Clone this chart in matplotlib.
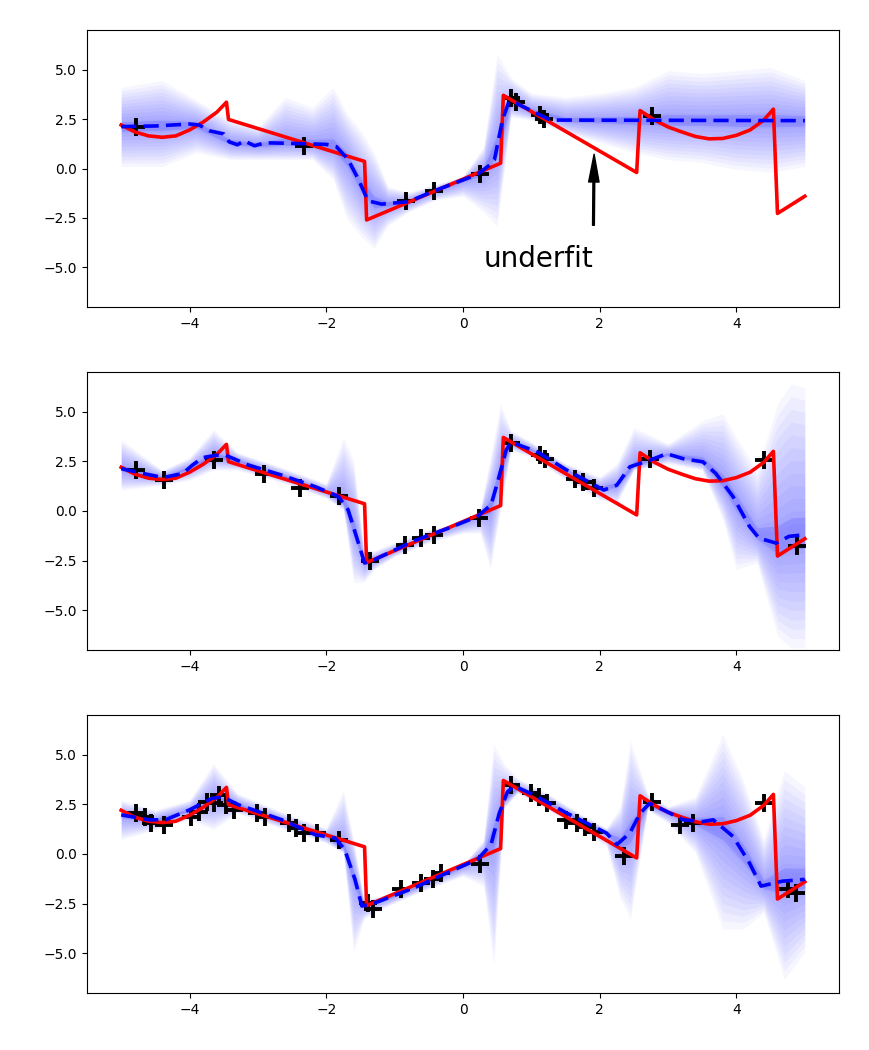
import matplotlib.pyplot as plt
import numpy as np

# true function (red)
true_x = [-5.0, -4.8, -4.6, -4.4, -4.2, -4.0, -3.8, -3.6, -3.46, -3.43, -1.44, -1.41,
          0.55, 0.59, 2.54, 2.59, 2.8, 3.0, 3.2, 3.4, 3.6, 3.8, 4.0, 4.2, 4.4, 4.54, 4.6, 5.0]
true_y = [2.2, 1.85, 1.65, 1.58, 1.65, 1.95, 2.35, 2.85, 3.35, 2.48, 0.36, -2.6,
          0.27, 3.7, -0.2, 2.93, 2.45, 2.1, 1.85, 1.62, 1.5, 1.52, 1.68, 1.95, 2.45, 3.0, -2.27, -1.4]

# posterior mean (blue dashed) per panel
mean1_x = [-5.0, -4.5, -4.0, -3.86, -3.7, -3.5, -3.42, -3.3, -3.2, -3.05, -2.9, -2.6, -2.3,
           -2.0, -1.85, -1.68, -1.53, -1.39, -1.19, -0.8, -0.42, -0.17, 0.21, 0.4, 0.46,
           0.577, 0.67, 0.79, 1.28, 5.0]
mean1_y = [2.12, 2.15, 2.25, 2.2, 1.9, 1.75, 1.35, 1.2, 1.4, 1.15, 1.3, 1.28, 1.25,
           1.22, 1.1, 0.45, -0.55, -1.63, -1.8, -1.68, -1.13, -0.8, -0.3, 0.2, 0.45,
           2.45, 3.37, 3.28, 2.45, 2.42]

mean2_x = [-5.0, -4.7, -4.39, -4.1, -3.96, -3.81, -3.62, -3.47, -3.13, -2.65, -2.16, -1.82,
           -1.68, -1.53, -1.44, -1.34, -1.19, -0.71, -0.2, 0.21, 0.41, 0.5, 0.63, 0.7,
           1.09, 1.52, 2.06, 2.25, 2.44, 2.73, 2.98, 3.22, 3.51, 3.7, 3.95, 4.19, 4.33,
           4.58, 4.77, 5.0]
mean2_y = [2.13, 1.9, 1.68, 1.88, 2.3, 2.68, 2.8, 2.8, 2.3, 1.8, 1.22, 0.72,
           0.05, -1.62, -2.62, -2.53, -2.28, -1.5, -0.85, -0.28, 0.3, 1.38, 3.05, 3.47,
           2.97, 2.05, 1.05, 1.3, 2.22, 2.55, 2.88, 2.63, 2.47, 1.88, 0.72, -0.78, -1.37,
           -1.62, -1.28, -1.2]

mean3_x = [-5.0, -4.59, -4.35, -4.0, -3.67, -3.52, -3.28, -2.65, -2.16, -1.87, -1.73, -1.58,
           -1.48, -1.34, -0.71, -0.2, 0.21, 0.41, 0.53, 0.65, 0.75, 1.04, 1.52, 2.1, 2.25,
           2.44, 2.59, 2.73, 2.93, 3.22, 3.51, 3.66, 3.95, 4.19, 4.36, 4.67, 5.0]
mean3_y = [1.97, 1.72, 1.72, 2.22, 2.8, 2.88, 2.47, 1.72, 0.97, 0.8, 0.22, -1.28,
           -2.62, -2.53, -1.7, -0.9, -0.28, 0.47, 2.05, 3.13, 3.42, 2.97, 2.05, 1.05, 0.47,
           1.05, 2.05, 2.55, 2.22, 1.72, 1.63, 1.72, 0.88, -0.45, -1.62, -1.37, -1.28]

# training points (black +) per panel
obs1_x = [-4.78, -2.33, -0.83, -0.42, 0.25, 0.7, 0.78, 1.12, 1.18, 2.76]
obs1_y = [2.08, 1.12, -1.63, -1.13, -0.28, 3.55, 3.35, 2.72, 2.52, 2.68]

obs2_x = [-4.78, -4.37, -3.64, -2.91, -2.38, -1.82, -1.36, -0.85, -0.61, -0.42, 0.24,
          0.7, 1.13, 1.2, 1.64, 1.75, 1.91, 2.73, 4.41, 4.89]
obs2_y = [2.05, 1.55, 2.55, 1.88, 1.13, 0.75, -2.53, -1.7, -1.37, -1.2, -0.37,
          3.4, 2.8, 2.6, 1.63, 1.45, 1.13, 2.63, 2.58, -1.78]

obs3_x = [-4.78, -4.65, -4.56, -4.37, -3.98, -3.86, -3.74, -3.64, -3.57, -3.47, -3.35,
          -3.01, -2.89, -2.55, -2.45, -2.33, -2.14, -1.82, -1.39, -1.31, -0.9, -0.61,
          -0.44, -0.32, 0.25, 0.7, 0.99, 1.11, 1.23, 1.5, 1.67, 1.79, 1.91, 2.35, 2.76,
          3.17, 3.36, 4.41, 4.75, 4.87]
obs3_y = [2.05, 1.85, 1.55, 1.47, 1.88, 2.13, 2.63, 2.55, 2.97, 2.47, 2.22,
          2.05, 1.88, 1.55, 1.3, 1.05, 1.05, 0.72, -2.45, -2.78, -1.78, -1.45,
          -1.28, -0.95, -0.5, 3.47, 3.05, 2.88, 2.55, 1.72, 1.55, 1.38, 1.13, -0.12, 2.63,
          1.47, 1.55, 2.55, -1.78, -1.95]

# extent of the posterior sample cloud per panel
cloud1_x = [-5.0, -4.4, -3.9, -3.4, -3.0, -2.6, -2.2, -1.9, -1.7, -1.5, -1.3, -1.1, -0.8,
            -0.4, 0.0, 0.3, 0.5, 0.7, 1.0, 1.5, 2.0, 2.5, 3.0, 3.5, 4.0, 4.5, 5.0]
cloud1_lo = [0.1, 0.1, 0.8, 0.45, 0.45, 0.45, 0.45, -0.55, -2.55, -3.4, -4.05, -2.9, -2.2,
             -1.6, -1.4, -2.2, -2.9, 2.6, 2.45, 1.8, 1.3, 0.8, 0.45, 0.3, -0.05, -0.2, 0.1]
cloud1_hi = [4.1, 4.45, 3.45, 2.45, 2.1, 3.6, 3.1, 4.1, 2.8, 1.95, 0.8, -0.9, -1.2,
             -0.8, -0.4, 1.1, 5.8, 4.6, 3.8, 3.6, 3.8, 4.1, 4.95, 4.8, 4.95, 5.1, 4.45]

cloud2_x = [-5.0, -4.4, -4.0, -3.65, -3.3, -2.6, -2.0, -1.75, -1.6, -1.45, -1.3, -1.0, -0.5,
            0.0, 0.25, 0.4, 0.55, 0.7, 1.0, 1.5, 2.0, 2.25, 2.5, 3.0, 3.5, 3.8, 4.0, 4.3,
            4.6, 4.8, 5.0]
cloud2_lo = [1.05, 1.3, 1.55, 2.05, 2.05, 1.38, 0.63, 0.05, -3.6, -3.6, -2.95, -2.3, -1.6,
             -1.12, -1.12, -2.95, 0.05, 3.05, 2.72, 1.55, 0.55, 0.38, 2.05, 2.38, 2.05, -0.45,
             -2.95, -2.62, -6.3, -6.9, -6.9]
cloud2_hi = [3.6, 2.05, 2.7, 4.1, 2.95, 2.13, 1.38, 3.7, 2.55, -1.95, -2.0, -1.6, -0.95,
             -0.53, 0.05, 2.7, 5.4, 4.05, 3.47, 2.38, 1.72, 2.38, 4.2, 3.38, 4.55, 4.9,
             3.7, 2.05, 5.4, 6.4, 6.2]

cloud3_x = [-5.0, -4.5, -4.0, -3.65, -3.3, -2.6, -2.0, -1.75, -1.6, -1.45, -1.2, -0.7, -0.2,
            0.0, 0.3, 0.45, 0.6, 0.8, 1.2, 1.7, 2.1, 2.3, 2.45, 2.7, 3.0, 3.4, 3.8, 4.1,
            4.4, 4.7, 5.0]
cloud3_lo = [0.72, 1.22, 1.72, 1.22, 2.05, 1.22, 0.55, 0.05, -4.95, -3.28, -2.78, -2.03, -1.37,
             -1.12, -1.62, -5.6, 2.3, 3.05, 2.3, 1.22, 0.38, -2.28, -3.28, 2.22, 1.55, 0.05,
             -3.78, -3.78, -2.95, -6.3, -4.95]
cloud3_hi = [2.72, 2.22, 2.72, 4.55, 3.05, 2.05, 1.3, 3.22, 0.72, -2.28, -2.12, -1.45, -0.87,
             -0.53, 0.72, 5.55, 4.55, 3.8, 3.13, 2.05, 1.3, 2.38, 5.7, 3.05, 2.38, 2.88,
             6.05, 3.72, 0.72, 4.2, 3.38]

panels = [
    (mean1_x, mean1_y, obs1_x, obs1_y, cloud1_x, cloud1_lo, cloud1_hi),
    (mean2_x, mean2_y, obs2_x, obs2_y, cloud2_x, cloud2_lo, cloud2_hi),
    (mean3_x, mean3_y, obs3_x, obs3_y, cloud3_x, cloud3_lo, cloud3_hi),
]

fig = plt.figure(figsize=(8.69, 10.5), dpi=100)
rects = [[0.1001, 0.7076, 0.8654, 0.2638],
         [0.1001, 0.3810, 0.8654, 0.2648],
         [0.1001, 0.0543, 0.8654, 0.2648]]

axes = []
for rect, (mx, my, ox, oy, cx, clo, chi) in zip(rects, panels):
    ax = fig.add_axes(rect)
    cx = np.array(cx)
    clo = np.array(clo)
    chi = np.array(chi)
    mid = np.interp(cx, mx, my)
    # many thin nested layers -> soft haze standing in for the star samples
    for f in np.linspace(1.0, 0.08, 12):
        ax.fill_between(cx, mid + (clo - mid) * f, mid + (chi - mid) * f,
                        color='blue', alpha=0.035, lw=0, zorder=1)
    ax.fill_between(cx, mid + (clo - mid) * 0.12, mid + (chi - mid) * 0.12,
                    color='blue', alpha=0.12, lw=0, zorder=1)
    ax.plot(ox, oy, '+', color='black', ms=13, mew=2.8, zorder=2)
    ax.plot(true_x, true_y, color='red', lw=2.6, zorder=3)
    ax.plot(mx, my, color='blue', lw=2.6, dashes=(4.2, 2.0), zorder=4)
    ax.set_xlim(-5.5, 5.5)
    ax.set_ylim(-7, 7)
    ax.set_xticks([-4, -2, 0, 2, 4])
    ax.set_yticks([-5, -2.5, 0, 2.5, 5])
    axes.append(ax)

axes[0].annotate('underfit', xy=(1.92, 1.6), xytext=(0.3, -5.0), fontsize=20,
                 arrowprops=dict(facecolor='black', shrink=0.16, width=1.3,
                                 headwidth=7.5, headlength=20))

fig.savefig('out.png', dpi=100)
